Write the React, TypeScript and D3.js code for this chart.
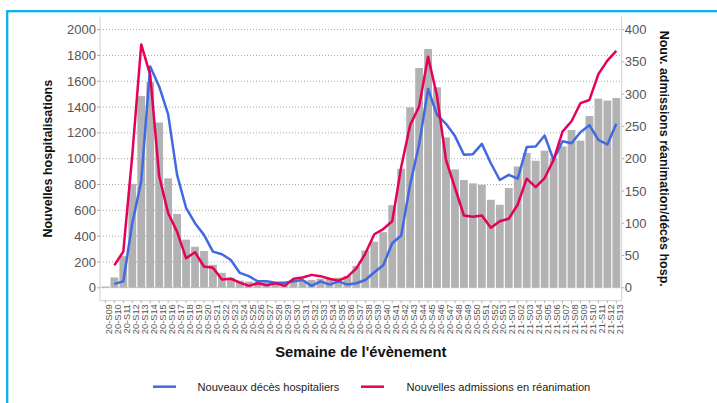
import React from 'react';
import * as d3 from 'd3';

const weeks = [
  '20-S09','20-S10','20-S11','20-S12','20-S13','20-S14','20-S15','20-S16','20-S17','20-S18',
  '20-S19','20-S20','20-S21','20-S22','20-S23','20-S24','20-S25','20-S26','20-S27','20-S28',
  '20-S29','20-S30','20-S31','20-S32','20-S33','20-S34','20-S35','20-S36','20-S37','20-S38',
  '20-S39','20-S40','20-S41','20-S42','20-S43','20-S44','20-S45','20-S46','20-S47','20-S48',
  '20-S49','20-S50','20-S51','20-S52','20-S53','21-S01','21-S02','21-S03','21-S04','21-S05',
  '21-S06','21-S07','21-S08','21-S09','21-S10','21-S11','21-S12','21-S13',
];

const hospitalisations = [
  10, 80, 245, 805, 1485, 1595, 1280, 848, 572, 373, 318, 285,
  178, 116, 78, 55, 48, 46, 42, 40, 44, 52,
  56, 62, 70, 72, 78, 92, 170, 289, 357, 431,
  640, 922, 1398, 1703, 1850, 1553, 1165, 917, 835, 809,
  798, 682, 643,
  773, 940, 1044, 984, 1062, 1005, 1096, 1222, 1140, 1331, 1465, 1450, 1470,
];

const decesHospitaliers: (number | null)[] = [
  null, 6, 10, 100, 165, 343, 312, 269, 175, 124, 100, 82,
  56, 52, 43, 23, 18, 10, 10, 8, 8, 10,
  12, 3, 10, 5, 10, 5, 7, 12, 24, 35,
  69, 81, 160, 222, 308, 268, 254, 235, 206, 207,
  223, 193, 167,
  175, 169, 218, 219, 236, 198, 227, 224, 241, 252, 229, 222, 254,
];

const admissionsReanimation: (number | null)[] = [
  null, 35, 56, 205, 377, 330, 173, 116, 87, 46, 55, 33,
  31, 13, 14, 8, 3, 7, 4, 7, 3, 14,
  16, 20, 18, 14, 11, 17, 30, 53, 83, 91,
  103, 187, 252, 281, 358, 297, 198, 155, 112, 110,
  112, 93, 103,
  107, 129, 169, 156, 170, 198, 242, 258, 286, 291, 331, 352, 367,
];

const leftTicks = [0, 200, 400, 600, 800, 1000, 1200, 1400, 1600, 1800, 2000];
const rightTicks = [0, 50, 100, 150, 200, 250, 300, 350, 400];

const FONT = '"Liberation Sans", Arial, Helvetica, sans-serif';
const BLUE = '#4169E1';
const RED = '#E6005A';

export default function App() {
  const W = 717, H = 403;
  const left = 100, right = 621.7, top = 16.7, bottom = 300.7;

  const x = d3.scaleBand<string>().domain(weeks).range([left, right]).paddingInner(0.13).paddingOuter(0.165);
  const yL = d3.scaleLinear().domain([-100, 2100]).range([bottom, top]);
  const yR = d3.scaleLinear().domain([-20, 420]).range([bottom, top]);
  const cx = (i: number) => (x(weeks[i]) as number) + x.bandwidth() / 2;

  const line = d3.line<number | null>()
    .defined(d => d != null)
    .x((_, i) => cx(i))
    .y(d => yR(d as number));

  const midY = (top + bottom) / 2;

  return (
    <svg width={W} height={H} style={{ position: 'absolute', left: 0, top: 0, background: '#fff' }} fontFamily={FONT}>
      <rect x={0} y={0} width={W} height={H} fill="#fff" />
      {/* frame */}
      <rect x={7.2} y={11.2} width={800} height={600} fill="none" stroke="#0AB0EC" strokeWidth={2.3} />

      {/* gridlines */}
      {leftTicks.map(t => (
        <line key={'g' + t} x1={left} x2={right} y1={yL(t)} y2={yL(t)} stroke="#a8a8a8" strokeWidth={1} strokeDasharray="1 2" />
      ))}

      {/* bars */}
      {hospitalisations.map((v, i) => (
        <rect key={'b' + i} x={x(weeks[i])} y={yL(v)} width={x.bandwidth()} height={Math.max(0, yL(0) - yL(v))} fill="#b2b2b2" />
      ))}

      {/* axis lines */}
      <line x1={left} x2={left} y1={top} y2={bottom} stroke="#cfcfcf" strokeWidth={1} />
      <line x1={right} x2={right} y1={top} y2={bottom} stroke="#cfcfcf" strokeWidth={1} />
      <line x1={left} x2={right} y1={bottom} y2={bottom} stroke="#cfcfcf" strokeWidth={1} />

      {/* lines */}
      <path d={line(decesHospitaliers) || ''} fill="none" stroke={BLUE} strokeWidth={2.5} strokeLinejoin="round" />
      <path d={line(admissionsReanimation) || ''} fill="none" stroke={RED} strokeWidth={2.5} strokeLinejoin="round" />

      {/* left axis */}
      {leftTicks.map(t => (
        <g key={'l' + t}>
          <line x1={left - 3} x2={left} y1={yL(t)} y2={yL(t)} stroke="#b0b0b0" />
          <text x={left - 4} y={yL(t)} dy="0.35em" textAnchor="end" fontSize={13} fill="#555">{t}</text>
        </g>
      ))}
      {/* right axis */}
      {rightTicks.map(t => (
        <g key={'r' + t}>
          <line x1={right} x2={right + 2.5} y1={yR(t)} y2={yR(t)} stroke="#b0b0b0" />
          <text x={right + 3} y={yR(t)} dy="0.35em" textAnchor="start" fontSize={13} fill="#555">{t}</text>
        </g>
      ))}
      {/* x axis */}
      {weeks.map((w, i) => (
        <g key={'x' + w}>
          <line x1={cx(i)} x2={cx(i)} y1={bottom} y2={bottom + 2.5} stroke="#b0b0b0" />
          <text transform={`translate(${cx(i)},${bottom + 3.5}) rotate(-90)`} dy="0.72em" textAnchor="end" fontSize={9.3} fill="#555">{w}</text>
        </g>
      ))}

      {/* axis titles */}
      <text transform={`translate(48,${midY}) rotate(-90)`} dy="0.35em" textAnchor="middle" fontSize={12.5} fontWeight="bold" fill="#111">Nouvelles hospitalisations</text>
      <text transform={`translate(664,${midY}) rotate(90)`} dy="0.35em" textAnchor="middle" fontSize={12.5} fontWeight="bold" fill="#111">Nouv. admissions réanimation/décès hosp.</text>
      <text x={(left + right) / 2} y={357.3} textAnchor="middle" fontSize={14.8} fontWeight="bold" fill="#111">Semaine de l'évènement</text>

      {/* legend */}
      <line x1={153} x2={176} y1={386.7} y2={386.7} stroke={BLUE} strokeWidth={2.5} />
      <text x={197.5} y={386.7} dy="0.35em" fontSize={11.1} fill="#222">Nouveaux décès hospitaliers</text>
      <line x1={361} x2={384} y1={386.7} y2={386.7} stroke={RED} strokeWidth={2.5} />
      <text x={406.5} y={386.7} dy="0.35em" fontSize={11.1} fill="#222">Nouvelles admissions en réanimation</text>
    </svg>
  );
}
